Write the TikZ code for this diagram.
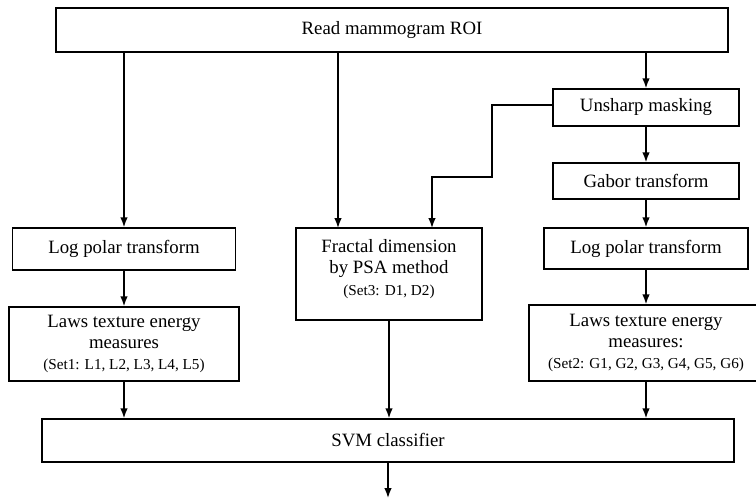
\documentclass[tikz,border=0pt]{standalone}
\usepackage{fontspec}
\setmainfont{Liberation Serif}
\usetikzlibrary{arrows.meta}

\newcommand{\mainsize}{\fontsize{9.4}{10.6}\selectfont}
\newcommand{\setsize}{\fontsize{7.6}{9.8}\selectfont}

\begin{document}
\begin{tikzpicture}[x=0.5pt,y=-0.5pt,>={Latex[length=5pt,width=3.8pt]}]
			\useasboundingbox (0,0) rectangle (756,498);

			\begin{scope}[every node/.style={rectangle,draw,line width=0.75pt,align=center,font=\mainsize,inner sep=0pt}]
				\node[minimum width=336pt,minimum height=22pt] (read) at (392,30) {Read mammogram ROI};
				\node[minimum width=93pt,minimum height=18.5pt] (unsharp) at (646,107.5) {Unsharp masking};
				\node[minimum width=93pt,minimum height=18pt] (gabor) at (646,181) {Gabor transform};
				\node[minimum width=102pt,minimum height=20.5pt] (logR) at (646,248.5) {Log polar transform};
				\node[minimum width=117pt,minimum height=38pt] (lawsR) at (646,343) {Laws texture energy\\measures:\\{\setsize (Set2: G1, G2, G3, G4, G5, G6)}};
				\node[minimum width=111.5pt,minimum height=21pt] (logL) at (124,249) {Log polar transform};
				\node[minimum width=115pt,minimum height=37pt] (lawsL) at (124,344) {Laws texture energy\\measures\\{\setsize (Set1: L1, L2, L3, L4, L5)}};
				\node[minimum width=93pt,minimum height=46pt] (frac) at (389,274) {};
				\node[minimum width=346pt,minimum height=21.5pt] (svm) at (388,440.5) {SVM classifier};
			\end{scope}

			% text of the fractal box sits at its top
			\node[anchor=north,align=center,font=\mainsize,inner sep=0pt] (fractxt) at ([yshift=-6pt]frac.north) {Fractal dimension\\by PSA method\\{\setsize (Set3: D1, D2)}};

			\coordinate (fracinA) at (338,228);
			\coordinate (fracinB) at (432,228);
			\coordinate (bend) at (492,177);
			\coordinate (out) at (388,498);

			\begin{scope}[every edge/.style={draw=black,line width=0.75pt}]
				\path [->] (read.south -| logL) edge (logL);
				\path [->] (read.south -| fracinA) edge (fracinA);
				\path [->] (read.south -| unsharp) edge (unsharp);
				\path [->] (unsharp) edge (gabor);
				\path [->] (gabor) edge (logR);
				\path [->] (logR) edge (lawsR);
				\path [->] (logL) edge (lawsL);
				\path [->] (lawsL) edge (svm.north -| lawsL);
				\path [->] (frac) edge (svm.north -| frac);
				\path [->] (lawsR) edge (svm.north -| lawsR);
				\path [->] (svm) edge (out);
			\end{scope}
			\draw [->,line width=0.75pt] ([yshift=1.25pt]unsharp.west) -| (bend) -| (fracinB);
		\end{tikzpicture}
\end{document}
